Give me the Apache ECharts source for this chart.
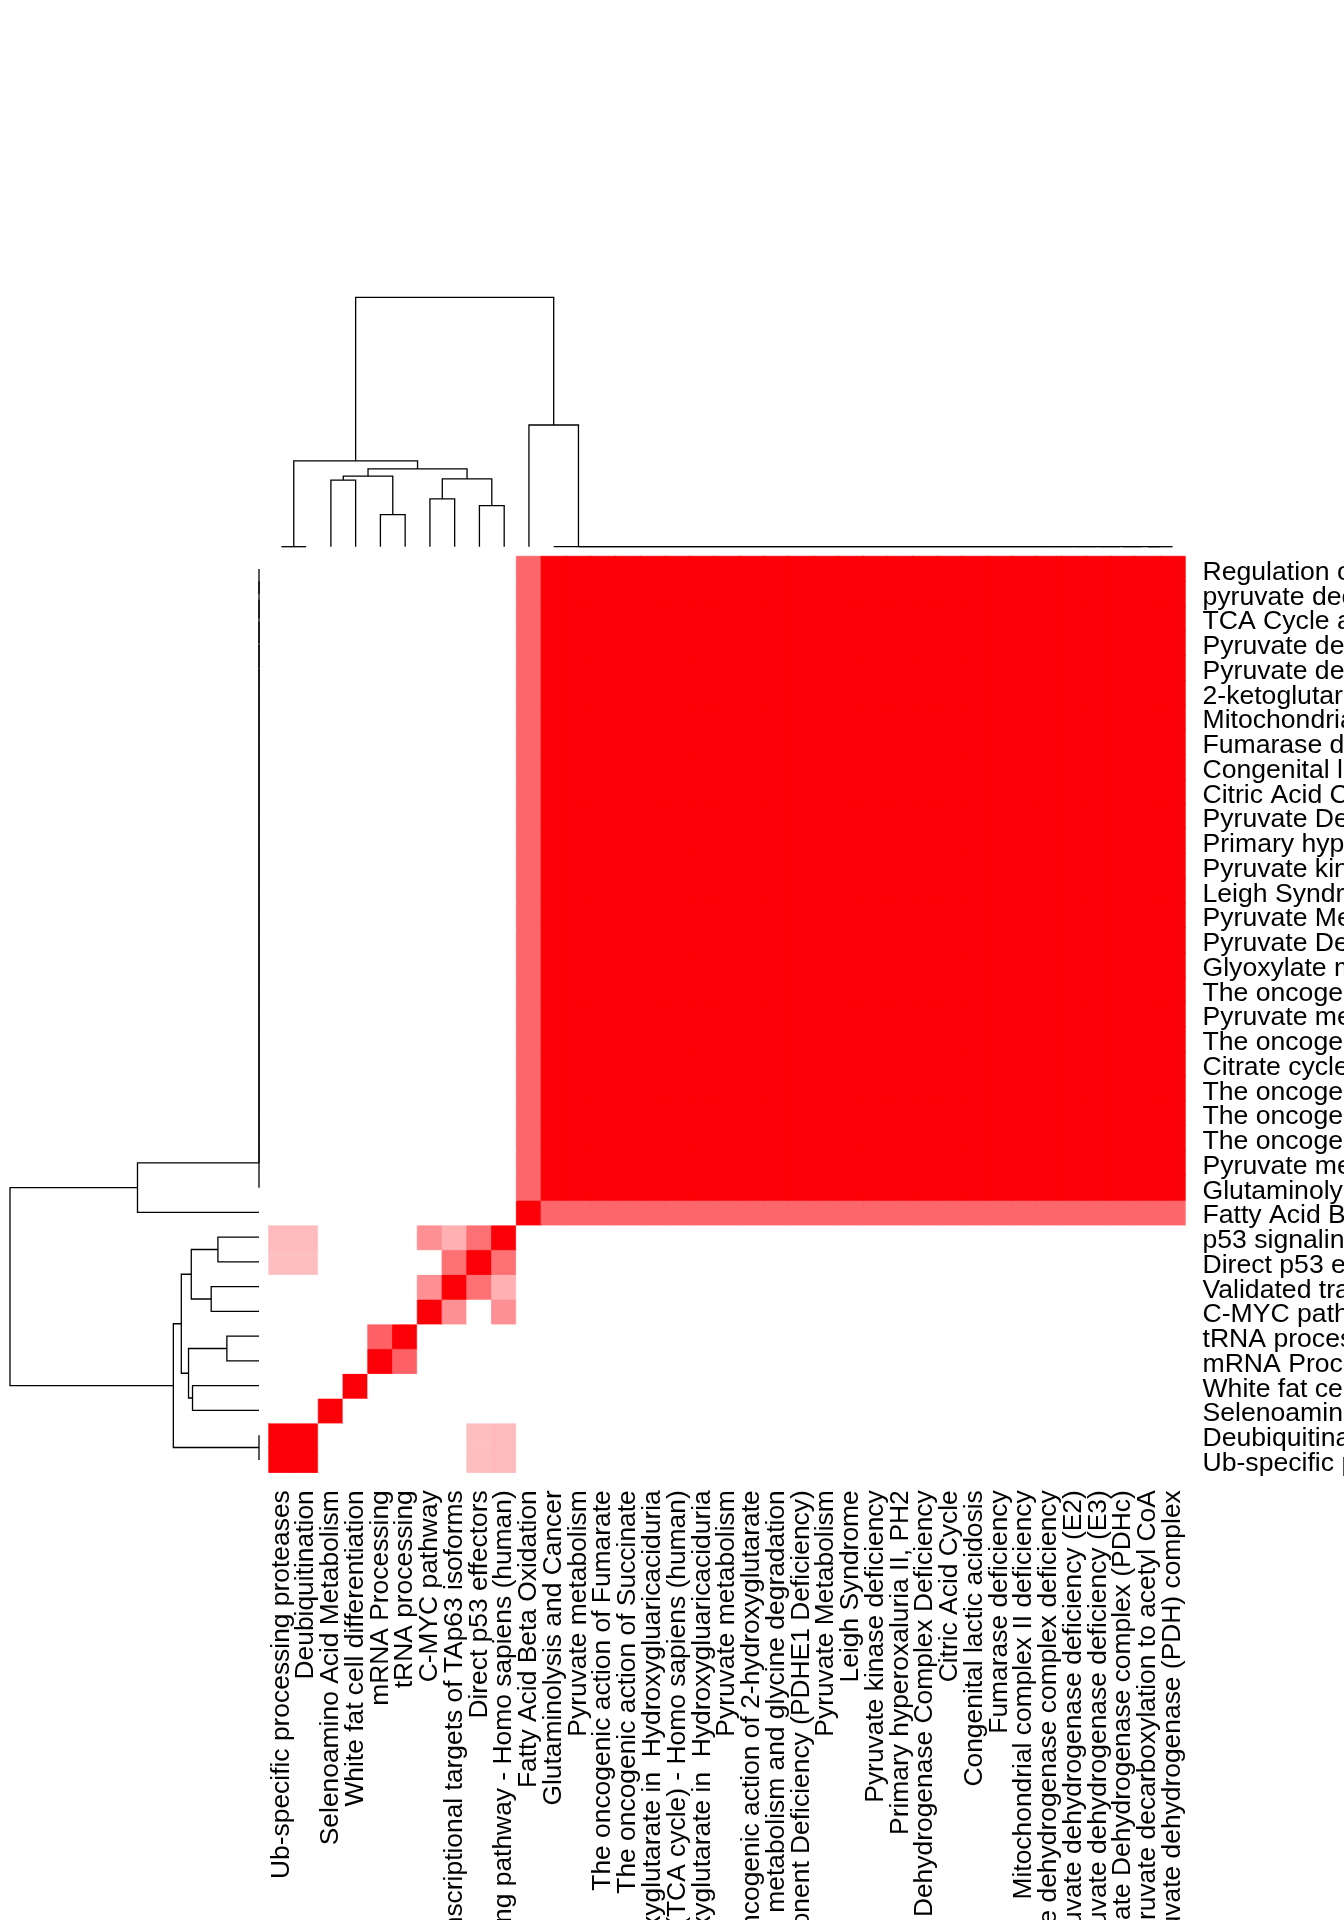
<!DOCTYPE html>
<html><head><meta charset="utf-8">
<script src="https://cdn.jsdelivr.net/npm/echarts@6/dist/echarts.min.js"></script>
<style>html,body{margin:0;padding:0;background:#fff}#c{width:1344px;height:1920px}</style>
</head><body><div id="c"></div>
<script>
// Pathway names in dendrogram leaf order (item 1 = left column / bottom row)
const pathways = [
  "Ub-specific processing proteases",
  "Deubiquitination",
  "Selenoamino Acid Metabolism",
  "White fat cell differentiation",
  "mRNA Processing",
  "tRNA processing",
  "C-MYC pathway",
  "Validated transcriptional targets of TAp63 isoforms",
  "Direct p53 effectors",
  "p53 signaling pathway - Homo sapiens (human)",
  "Fatty Acid Beta Oxidation",
  "Glutaminolysis and Cancer",
  "Pyruvate metabolism",
  "The oncogenic action of Fumarate",
  "The oncogenic action of Succinate",
  "The oncogenic action of L-2-hydroxyglutarate in  Hydroxygluaricaciduria",
  "Citrate cycle (TCA cycle) - Homo sapiens (human)",
  "The oncogenic action of D-2-hydroxyglutarate in  Hydroxygluaricaciduria",
  "Pyruvate metabolism",
  "The oncogenic action of 2-hydroxyglutarate",
  "Glyoxylate metabolism and glycine degradation",
  "Pyruvate Dehydrogenase E1 Component Deficiency (PDHE1 Deficiency)",
  "Pyruvate Metabolism",
  "Leigh Syndrome",
  "Pyruvate kinase deficiency",
  "Primary hyperoxaluria II, PH2",
  "Pyruvate Dehydrogenase Complex Deficiency",
  "Citric Acid Cycle",
  "Congenital lactic acidosis",
  "Fumarase deficiency",
  "Mitochondrial complex II deficiency",
  "2-ketoglutarate dehydrogenase complex deficiency",
  "Pyruvate dehydrogenase deficiency (E2)",
  "Pyruvate dehydrogenase deficiency (E3)",
  "TCA Cycle and Deficiency of Pyruvate Dehydrogenase complex (PDHc)",
  "pyruvate decarboxylation to acetyl CoA",
  "Regulation of pyruvate dehydrogenase (PDH) complex"
];

// Similarity matrix (row = item, column = item), same order as pathways
const similarity = [
  [1,1,0,0,0,0,0,0,.25,.27,0, 0,0,0,0,0,0,0,0,0,0,0,0,0,0,0,0,0,0,0,0,0,0,0,0,0,0],
  [1,1,0,0,0,0,0,0,.25,.27,0, 0,0,0,0,0,0,0,0,0,0,0,0,0,0,0,0,0,0,0,0,0,0,0,0,0,0],
  [0,0,1,0,0,0,0,0,0,0,0, 0,0,0,0,0,0,0,0,0,0,0,0,0,0,0,0,0,0,0,0,0,0,0,0,0,0],
  [0,0,0,1,0,0,0,0,0,0,0, 0,0,0,0,0,0,0,0,0,0,0,0,0,0,0,0,0,0,0,0,0,0,0,0,0,0],
  [0,0,0,0,1,.62,0,0,0,0,0, 0,0,0,0,0,0,0,0,0,0,0,0,0,0,0,0,0,0,0,0,0,0,0,0,0,0],
  [0,0,0,0,.62,1,0,0,0,0,0, 0,0,0,0,0,0,0,0,0,0,0,0,0,0,0,0,0,0,0,0,0,0,0,0,0,0],
  [0,0,0,0,0,0,1,.44,0,.44,0, 0,0,0,0,0,0,0,0,0,0,0,0,0,0,0,0,0,0,0,0,0,0,0,0,0,0],
  [0,0,0,0,0,0,.44,1,.56,.31,0, 0,0,0,0,0,0,0,0,0,0,0,0,0,0,0,0,0,0,0,0,0,0,0,0,0,0],
  [.25,.25,0,0,0,0,0,.56,1,.56,0, 0,0,0,0,0,0,0,0,0,0,0,0,0,0,0,0,0,0,0,0,0,0,0,0,0,0],
  [.27,.27,0,0,0,0,.44,.31,.56,1,0, 0,0,0,0,0,0,0,0,0,0,0,0,0,0,0,0,0,0,0,0,0,0,0,0,0,0],
  [0,0,0,0,0,0,0,0,0,0,1, .6,.6,.6,.6,.6,.6,.6,.6,.6,.6,.6,.6,.6,.6,.6,.6,.6,.6,.6,.6,.6,.6,.6,.6,.6,.6],
  [0,0,0,0,0,0,0,0,0,0,.6, 1,1,1,1,1,1,1,1,1,1,1,1,1,1,1,1,1,1,1,1,1,1,1,1,1,1],
  [0,0,0,0,0,0,0,0,0,0,.6, 1,1,1,1,1,1,1,1,1,1,1,1,1,1,1,1,1,1,1,1,1,1,1,1,1,1],
  [0,0,0,0,0,0,0,0,0,0,.6, 1,1,1,1,1,1,1,1,1,1,1,1,1,1,1,1,1,1,1,1,1,1,1,1,1,1],
  [0,0,0,0,0,0,0,0,0,0,.6, 1,1,1,1,1,1,1,1,1,1,1,1,1,1,1,1,1,1,1,1,1,1,1,1,1,1],
  [0,0,0,0,0,0,0,0,0,0,.6, 1,1,1,1,1,1,1,1,1,1,1,1,1,1,1,1,1,1,1,1,1,1,1,1,1,1],
  [0,0,0,0,0,0,0,0,0,0,.6, 1,1,1,1,1,1,1,1,1,1,1,1,1,1,1,1,1,1,1,1,1,1,1,1,1,1],
  [0,0,0,0,0,0,0,0,0,0,.6, 1,1,1,1,1,1,1,1,1,1,1,1,1,1,1,1,1,1,1,1,1,1,1,1,1,1],
  [0,0,0,0,0,0,0,0,0,0,.6, 1,1,1,1,1,1,1,1,1,1,1,1,1,1,1,1,1,1,1,1,1,1,1,1,1,1],
  [0,0,0,0,0,0,0,0,0,0,.6, 1,1,1,1,1,1,1,1,1,1,1,1,1,1,1,1,1,1,1,1,1,1,1,1,1,1],
  [0,0,0,0,0,0,0,0,0,0,.6, 1,1,1,1,1,1,1,1,1,1,1,1,1,1,1,1,1,1,1,1,1,1,1,1,1,1],
  [0,0,0,0,0,0,0,0,0,0,.6, 1,1,1,1,1,1,1,1,1,1,1,1,1,1,1,1,1,1,1,1,1,1,1,1,1,1],
  [0,0,0,0,0,0,0,0,0,0,.6, 1,1,1,1,1,1,1,1,1,1,1,1,1,1,1,1,1,1,1,1,1,1,1,1,1,1],
  [0,0,0,0,0,0,0,0,0,0,.6, 1,1,1,1,1,1,1,1,1,1,1,1,1,1,1,1,1,1,1,1,1,1,1,1,1,1],
  [0,0,0,0,0,0,0,0,0,0,.6, 1,1,1,1,1,1,1,1,1,1,1,1,1,1,1,1,1,1,1,1,1,1,1,1,1,1],
  [0,0,0,0,0,0,0,0,0,0,.6, 1,1,1,1,1,1,1,1,1,1,1,1,1,1,1,1,1,1,1,1,1,1,1,1,1,1],
  [0,0,0,0,0,0,0,0,0,0,.6, 1,1,1,1,1,1,1,1,1,1,1,1,1,1,1,1,1,1,1,1,1,1,1,1,1,1],
  [0,0,0,0,0,0,0,0,0,0,.6, 1,1,1,1,1,1,1,1,1,1,1,1,1,1,1,1,1,1,1,1,1,1,1,1,1,1],
  [0,0,0,0,0,0,0,0,0,0,.6, 1,1,1,1,1,1,1,1,1,1,1,1,1,1,1,1,1,1,1,1,1,1,1,1,1,1],
  [0,0,0,0,0,0,0,0,0,0,.6, 1,1,1,1,1,1,1,1,1,1,1,1,1,1,1,1,1,1,1,1,1,1,1,1,1,1],
  [0,0,0,0,0,0,0,0,0,0,.6, 1,1,1,1,1,1,1,1,1,1,1,1,1,1,1,1,1,1,1,1,1,1,1,1,1,1],
  [0,0,0,0,0,0,0,0,0,0,.6, 1,1,1,1,1,1,1,1,1,1,1,1,1,1,1,1,1,1,1,1,1,1,1,1,1,1],
  [0,0,0,0,0,0,0,0,0,0,.6, 1,1,1,1,1,1,1,1,1,1,1,1,1,1,1,1,1,1,1,1,1,1,1,1,1,1],
  [0,0,0,0,0,0,0,0,0,0,.6, 1,1,1,1,1,1,1,1,1,1,1,1,1,1,1,1,1,1,1,1,1,1,1,1,1,1],
  [0,0,0,0,0,0,0,0,0,0,.6, 1,1,1,1,1,1,1,1,1,1,1,1,1,1,1,1,1,1,1,1,1,1,1,1,1,1],
  [0,0,0,0,0,0,0,0,0,0,.6, 1,1,1,1,1,1,1,1,1,1,1,1,1,1,1,1,1,1,1,1,1,1,1,1,1,1],
  [0,0,0,0,0,0,0,0,0,0,.6, 1,1,1,1,1,1,1,1,1,1,1,1,1,1,1,1,1,1,1,1,1,1,1,1,1,1]
];

// Dendrogram merges (hclust style): negative = leaf item number, positive = earlier merge number
const mergeLeft   = [-1, -3, -5, 2, -7, -9, 5, 4, 1, -36, -35, -34, -33, -32, -31, -30, -29, -28, -27, -26, -25, -24, -23, -22, -21, -20, -19, -18, -17, -16, -15, -14, -13, -12, -11, 9];
const mergeRight  = [-2, -4, -6, 3, -8, -10, 6, 7, 8, -37, 10, 11, 12, 13, 14, 15, 16, 17, 18, 19, 20, 21, 22, 23, 24, 25, 26, 27, 28, 29, 30, 31, 32, 33, 34, 35];
const mergeHeight = [0, 0.267, 0.129, 0.283, 0.192, 0.165, 0.272, 0.312, 0.344, 0, 0, 0, 0, 0, 0, 0, 0, 0, 0, 0, 0, 0, 0, 0, 0, 0, 0, 0, 0, 0, 0, 0, 0, 0, 0.488, 1];

const LOW = [255, 255, 255], HIGH = [252, 0, 7];
function shade(v) {
  const c = LOW.map((l, i) => Math.round(l + (HIGH[i] - l) * v));
  return 'rgb(' + c.join(',') + ')';
}

const N = pathways.length;
const heatData = [];
for (let r = 0; r < N; r++) for (let c = 0; c < N; c++) {
  const v = similarity[r][c];
  heatData.push({ value: [c, r, v], itemStyle: { borderColor: shade(v), borderWidth: 0.8 } });
}

// dendrogram segments in (leafPosition, height) space
const nodePos = [], nodeH = [];
function posOf(id) { return id < 0 ? (-id - 0.5) : nodePos[id - 1]; }
function hOf(id) { return id < 0 ? 0 : nodeH[id - 1]; }
const segs = [];
for (let k = 0; k < mergeLeft.length; k++) {
  const L = mergeLeft[k], R = mergeRight[k], h = mergeHeight[k];
  const pl = posOf(L), pr = posOf(R);
  nodePos.push((pl + pr) / 2); nodeH.push(h);
  segs.push([[pl, hOf(L)], [pl, h], [pr, h], [pr, hOf(R)]]);
}
const topSegs = segs.map(s => ({ coords: s.map(p => [p[0], p[1]]) }));
const leftSegs = segs.map(s => ({ coords: s.map(p => [p[1], p[0]]) }));

const FONT = 'Liberation Sans, Arial, Helvetica, sans-serif';
const FS = 26.6;

const chart = echarts.init(document.getElementById('c'), null, { renderer: 'canvas', width: 1344, height: 1920 });
chart.setOption({
  backgroundColor: '#ffffff',
  animation: false,
  grid: [
    { left: 269, top: 556.5, width: 916, height: 915.75, outerBoundsMode: 'none' },
    { left: 269, top: 297.3, width: 916, height: 249.4, outerBoundsMode: 'none' },
    { left: 10, top: 556.5, width: 249, height: 915.75, outerBoundsMode: 'none' },
    { left: 269, top: 560.2, width: 916, height: 915.75, outerBoundsMode: 'none' }
  ],
  xAxis: [
    { gridIndex: 0, type: 'category', data: pathways, position: 'bottom',
      axisLine: { show: false }, axisTick: { show: false }, splitLine: { show: false },
      axisLabel: { interval: 0, rotate: 90, margin: 18, fontSize: 26.4, fontFamily: FONT, color: '#000' } },
    { gridIndex: 1, type: 'value', min: 0, max: N, show: false },
    { gridIndex: 2, type: 'value', min: 0, max: 1, inverse: true, show: false },
    { gridIndex: 3, type: 'category', data: pathways, show: false }
  ],
  yAxis: [
    { gridIndex: 0, type: 'category', data: pathways, position: 'right',
      axisLine: { show: false }, axisTick: { show: false }, splitLine: { show: false }, axisLabel: { show: false } },
    { gridIndex: 1, type: 'value', min: 0, max: 1, show: false },
    { gridIndex: 2, type: 'value', min: 0, max: N, show: false },
    { gridIndex: 3, type: 'category', data: pathways, position: 'right',
      axisLine: { show: false }, axisTick: { show: false }, splitLine: { show: false },
      axisLabel: { interval: 0, margin: 17.5, fontSize: FS, fontFamily: FONT, color: '#000' } }
  ],
  visualMap: { show: false, type: 'continuous', min: 0, max: 1, dimension: 2, seriesIndex: 0,
    inRange: { color: ['#ffffff', '#fc0007'] } },
  series: [
    { type: 'heatmap', xAxisIndex: 0, yAxisIndex: 0, data: heatData, emphasis: { disabled: true } },
    { type: 'lines', coordinateSystem: 'cartesian2d', xAxisIndex: 1, yAxisIndex: 1, polyline: true, clip: false,
      data: topSegs, lineStyle: { color: '#000', width: 1.3, opacity: 1 } },
    { type: 'lines', coordinateSystem: 'cartesian2d', xAxisIndex: 2, yAxisIndex: 2, polyline: true, clip: false,
      data: leftSegs, lineStyle: { color: '#000', width: 1.3, opacity: 1 } }
  ]
});
</script>
</body></html>
